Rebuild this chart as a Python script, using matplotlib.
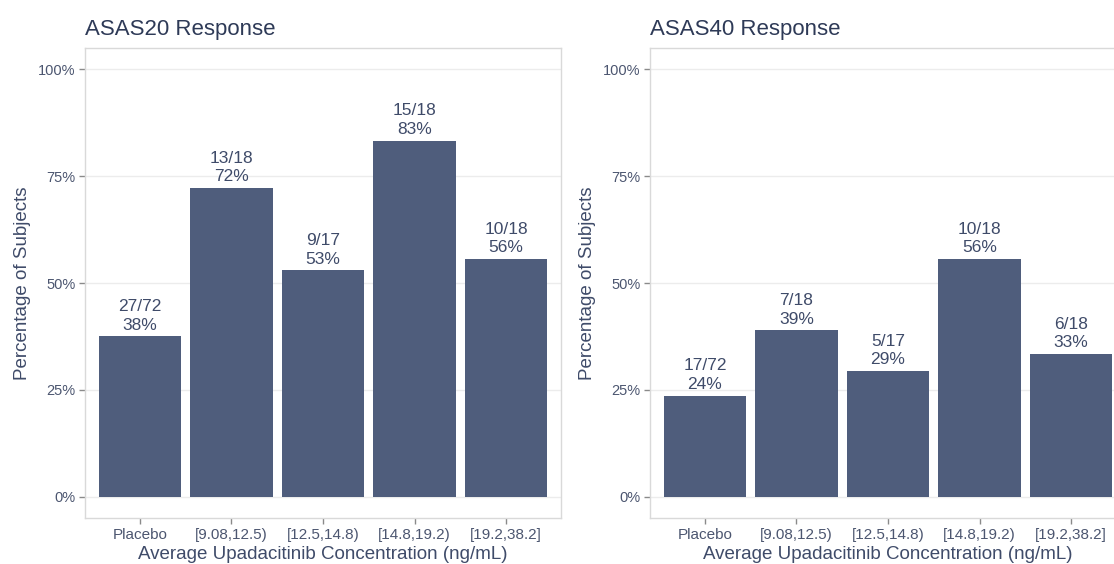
import numpy as np
import matplotlib
matplotlib.use('Agg')
import matplotlib.pyplot as plt
from matplotlib.ticker import FuncFormatter

plt.rcParams['font.family'] = ['Liberation Sans', 'DejaVu Sans']

# Concentration bins
groups = ['Placebo', '[9.08,12.5)', '[12.5,14.8)', '[14.8,19.2)', '[19.2,38.2]']

# Responders / subjects per bin
asas20_resp = [27, 13, 9, 15, 10]
asas20_n = [72, 18, 17, 18, 18]
asas40_resp = [17, 7, 5, 10, 6]
asas40_n = [72, 18, 17, 18, 18]

titles = ['ASAS20 Response', 'ASAS40 Response']

bar_col = '#4f5d7c'
title_col = '#2e3a57'
lab_col = '#3f4b69'
tick_col = '#4c5670'
grid_col = '#ececec'
border_col = '#d9d9d9'

fig = plt.figure(figsize=(11.14, 5.64), dpi=100)
W, H = 1114, 564


def panel(x0, resp, n, title):
    ax = fig.add_axes([x0 / W, 1 - 518 / H, 476 / W, 470 / H])
    pct = np.array(resp) / np.array(n) * 100
    x = np.arange(1, len(groups) + 1)
    ax.bar(x, pct, width=0.9, color=bar_col, zorder=2)
    for xi, p, r, m in zip(x, pct, resp, n):
        ax.text(xi, p + 0.9, f'{r}/{m}\n{p:.0f}%', ha='center', va='bottom',
                fontsize=12.5, color=lab_col, linespacing=1.3, zorder=3)
    ax.set_xlim(0.4, 5.6)
    ax.set_ylim(-5, 105)
    ax.set_yticks([0, 25, 50, 75, 100])
    ax.yaxis.set_major_formatter(FuncFormatter(lambda v, _: f'{v:.0f}%'))
    ax.set_xticks(x)
    ax.set_xticklabels(groups, fontsize=11)
    ax.grid(axis='y', color=grid_col, lw=1, zorder=0)
    ax.set_axisbelow(True)
    for s in ax.spines.values():
        s.set_color(border_col)
        s.set_linewidth(1)
    ax.tick_params(axis='both', colors='#8a8a8a', length=4, width=1,
                   labelcolor=tick_col, pad=3)
    ax.tick_params(axis='y', labelsize=10.5)
    ax.set_xlabel('Average Upadacitinib Concentration (ng/mL)', fontsize=13.5,
                  color=lab_col, labelpad=3)
    ax.set_ylabel('Percentage of Subjects', fontsize=13.5, color=lab_col,
                  labelpad=5)
    ax.set_title(title, loc='left', fontsize=16, color=title_col, pad=9)
    return ax


panel(85, asas20_resp, asas20_n, titles[0])
panel(650, asas40_resp, asas40_n, titles[1])

fig.savefig('out.png', dpi=100)
